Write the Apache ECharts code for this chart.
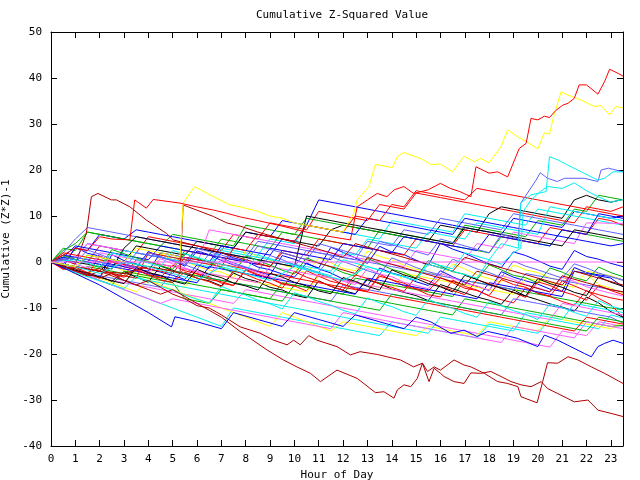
<!DOCTYPE html>
<html><head><meta charset="utf-8">
<script src="https://cdn.jsdelivr.net/npm/echarts@6/dist/echarts.min.js"></script>
<style>html,body{margin:0;padding:0;background:#fff}#c{width:640px;height:480px}</style>
</head><body><div id="c"></div>
<script>
const titleText = "Cumulative Z-Squared Value";
const xName = "Hour of Day";
const yName = "Cumulative (Z*Z)-1";
const xTicks = [0,1,2,3,4,5,6,7,8,9,10,11,12,13,14,15,16,17,18,19,20,21,22,23];
const yTicks = [-40,-30,-20,-10,0,10,20,30,40,50];

// shared half-hour sampling for the bundle of lines
const halfHours = [0,0.5,1,1.5,2,2.5,3,3.5,4,4.5,5,5.5,
  6,6.5,7,7.5,8,8.5,9,9.5,10,10.5,11,11.5,
  12,12.5,13,13.5,14,14.5,15,15.5,16,16.5,17,17.5,
  18,18.5,19,19.5,20,20.5,21,21.5,22,22.5,23,23.5];

const w01 = [0,2.5,4,6.5,6,5.5,5,4.5,4,3.5,6,5.5, 5,4.5,4,3.5,8,7.5,7,6.5,6,5.5,5,4.5, 4,3.5,3,7,6.5,6,5.5,5,4.5,4,8,7.5, 7,6.5,6,5.5,9,8.5,8,11.5,11,14.5,14,13.5];
const w02 = [0,-0.5,3,2.5,6,5.5,5,7,6.5,6,5.5,5, 4.5,4,3.5,3,6.5,6,5.5,9,8.5,8,13.5,13, 12.5,12,11.5,11,10.5,10,9.5,9,8.5,8,7.5,7, 6.5,6,9.5,9,8.5,8,7.5,11,10.5,10,9.5,10];
const w03 = [0,1,0.5,0,3.5,3,2.5,2,5.5,5,4.5,4, 3.5,3,2.5,6,5.5,5,8.5,8,7.5,7,11,10.5, 10,9.5,9,12.5,12,11.5,15,14.5,14,13.5,13,12.5, 12,11.5,11,10.5,10,9.5,9,8.5,12,11.5,11,12];
const w04 = [0,-0.5,-1,-1.5,-2,0.5,0,3.5,3,2.5,2,1.5, 4.5,4,3.5,3,6.5,6,5.5,5,4.5,4,3.5,7, 8,7.5,7,6.5,6,5.5,5,4.5,8,7.5,7,6.5, 10.5,12,11.5,11,10.5,10,9.5,13.5,14.5,13.5,13,13.6];
const w06 = [0,-1,-1.5,1,0.5,0,-0.5,-1,2,1.5,1,0.5, 0,-0.5,3,2.5,2,1.5,5,4.5,4,8,7.5,7, 6.5,6,5.5,5,9,8.5,8,7.5,7,6.5,10.5,10, 9.5,9,8.5,8,11.5,11,10.5,10,9.5,9,8.5,8];
const w07 = [0,-1.2,-2.6,-3.1,0.4,-0.8,-1.9,-2.4,-3.6,1.8,0.6,0.1, -0.9,-1.8,-2.2,-3.4,2.6,1.1,0.4,-0.6,-1.3,-2.5,0.9,-0.2, -1.4,-1.9,2.4,1.2,0.5,-0.7,-1.6,-2.1,-3.3,-0.4,-1.5,-2.8, -3.6,-4.4,-0.6,-1.7,-2.3,-3.5,-4.1,-1.2,-2.6,-4.9,-5.7,-6.8];
const w08 = [0,1.5,1,4,3.5,3,2.5,2,1.5,1,0.5,0, 3,2.5,2,1.5,1,4.5,4,3.5,3,2.5,2,1.5, 1,0.5,4.5,4,3.5,7,6.5,6,9.5,9,8.5,8, 7.5,7,10.5,10,9.5,9,8.5,8,7.5,7,6.5,6];
const w09 = [0,-1,-2,-1,-1.5,-2,-2.5,-3,-3.5,-4,-4.5,-8, -8.5,-9,-6,-6.5,-7,-7.5,-8,-4.5,-5,-5.5,-6,-6.5, -7,-3.5,-4,-4.5,-5,-5.5,-6,-6.5,-7,-7.5,-4,-4.5, -5,-5.5,-6,-6.5,-7,-7.5,-8,-8.5,-9,-9.5,-10,-10.4];
const w10 = [0,-0.8,-1.9,-2.3,-3.4,0.2,-1.1,-1.6,-2.8,-3.3,-4.1,-1.4, -2.5,-3.2,-4.6,-5.1,-1.8,-2.9,-3.6,-4.8,-5.2,-6.3,-2.6,-3.5, -4.9,-5.6,-6.4,-3.1,-3.8,-5.2,-5.9,-7.1,-7.6,-3.9,-5.3,-6.1, -7.4,-8.2,-8.9,-5.6,-6.7,-7.5,-8.6,-9.4,-6.2,-7.9,-9.3,-12];
const w11 = [0,-1.3,-2.1,-2.6,-3.4,1.6,0.3,-0.4,-1.5,-2.2,-2.9,-3.8, -0.6,-1.4,2.1,0.9,0.2,-1.1,-1.7,-2.6,-3.3,-0.2,-1.5,-2.4, -3.7,-4.5,-5.2,-1.3,-2.4,-3.1,-4.3,-5.1,-1.9,-3.2,-4.4,-5.3, -6.2,-2.1,-3.3,-4.1,-4.8,-5.9,-6.4,-1.2,-2.3,-2.8,-3.1,-3.9];
const w12 = [0,-1,-2,-3,-3.5,-4,-4.5,-5,-5.5,-6,-6.5,-7, -7.5,-8,-8.5,-9,-6,-6.5,-7,-7.5,-8,-8.5,-9,-9.5, -10,-10.5,-11,-11.5,-12,-12.5,-13,-13.5,-14,-14.5,-15,-15.5, -16,-16.5,-17,-17.5,-18,-18.5,-15,-15.5,-16,-13,-13.5,-14];
const w13 = [0,-1,-2,-3,-4,-5,-6,-7,-8,-9,-10,-11, -12,-13,-14,-10,-10.5,-11,-11.5,-12,-12.5,-13,-13.5,-14, -14.5,-15,-15.5,-16,-13,-13.5,-14,-14.5,-15,-15.5,-16,-16.5, -13.5,-14,-14.5,-15,-15.5,-12.5,-13,-13.5,-14,-14.5,-11.5,-12.2];
const w15 = [0,-0.5,-1.5,-2.5,-3.5,-4.5,-5.5,-6.5,-4,-5,-6,-7, -8,-9,-10,-11,-12,-13,-14,-11,-12,-13,-14,-15, -13,-13.5,-14,-14.5,-15,-15.5,-16,-14,-14.5,-15,-15.5,-16, -13,-13.5,-14,-14.5,-15,-12,-12.5,-13,-13.5,-14,-14.5,-13];
const w16 = [0,3,2.5,6.5,6,5.5,5,4.5,4,3.5,3,2.5, 2,1.5,5,4.5,4,3.5,3,6.5,6,9.5,9,8.5, 8,7.5,7,6.5,6,5.5,5,4.5,4,3.5,3,2.5, 2,5.5,5,4.5,4,3.5,7,6.5,6,5.5,5,4.5];
const w17 = [0,-1.1,3.2,1.9,1.3,0.2,-0.6,-1.4,2.3,1.1,0.4,-0.9, 2.4,1.6,0.3,-0.6,-1.2,-2.1,-2.8,1.4,0.6,-0.4,-1.3,3.2, 2.1,0.9,-0.3,3.4,2.2,1.6,0.4,-0.7,4.1,2.8,1.9,0.7, -0.4,-1.2,2.2,1.4,0.3,-0.9,-1.6,2.5,1.2,0.6,-0.3,-1];
const w18 = [0,-0.5,-1,-1.5,-2,-2.5,-3,0.5,0,-0.5,-1,2.5, 2,1.5,1,0.5,0,-0.5,-1,2.5,2,1.5,5,4.5, 4,3.5,3,2.5,2,1.5,5,4.5,4,3.5,7,6.5, 6,5.5,5,4.5,4,7.5,7,6.5,6,9.5,9,8];
const w19 = [0,-1.2,-1.9,-2.8,-3.1,-4.2,-2.1,-3.3,-4.4,-0.9,-1.8,-2.6, -3.5,-4.1,-5.2,-2.4,-3.6,-4.3,-5.5,-6.1,-7.2,-7.8,-4.1,-5.3, -6.2,-6.9,-3.8,-4.7,-5.9,-6.6,-7.3,-8.4,-4.9,-5.8,-6.7,-7.6, -8.3,-9.2,-6.1,-7.4,-8.2,-9.1,-9.8,-10.7,-7.6,-8.9,-10.8,-12];
const w20 = [0,-0.5,-1.5,-2.5,-3,-3.5,-4,-4.5,-5,-5.5,-2,-2.5, -3,-3.5,-4,-4.5,-5,-5.5,-6,-6.5,-7,-7.5,-8,-8.5, -5,-5.5,-6,-6.5,-7,-7.5,-8,-8.5,-9,-9.5,-10,-10.5, -11,-11.5,-8,-8.5,-9,-9.5,-10,-10.5,-11,-11.5,-12,-13.3];
const w21 = [0,1.5,1,4,3.5,3,2.5,2,1.5,1,0.5,0, -0.5,7,6.5,6,5.5,5,4.5,4,3.5,3,2.5,2, 1.5,1,0.5,0,-0.5,-1,2.5,2,1.5,1,0.5,4, 3.5,3,6.5,6,5.5,5,4.5,4,8.5,8.5,8.4,8.4];
const w22 = [0,1,0.5,0,-0.5,-1,2.5,2,1.5,1,0.5,0, -0.5,-1,2.5,2,1.5,1,0.5,0,-0.5,-1,-1.5,-2, 2,1.5,5,4.5,4,3.5,3,6.5,6,5.5,5,8.5, 8,7.5,7,6.5,6,12,11.5,11,10.5,10,9.5,9];
const w23 = [0,-0.5,-1,-1.5,-2,-2.5,-3,-3.5,-4,-4.5,-5,-5.5, -2,-2.5,-3,-3.5,-4,-4.5,-5,-5.5,-6,-6.5,-3,-3.5, -4,-4.5,-5,-5.5,-6,-2.5,-3,-3.5,-4,-4.5,-5,-5.5, -6,-6.5,-7,-3.5,-4,-4.5,-5,-5.5,-2,-2.5,-3,-4];
const w24 = [0,1.5,1,0.5,0,-0.5,-1,-1.5,-2,2,1.5,1, 0.5,0,3.5,3,2.5,2,1.5,5,4.5,8,7.5,7, 6.5,6,9.5,9,8.5,8,7.5,7,6.5,6,9.5,9, 8.5,8,7.5,7,6.5,6,5.5,5,4.5,4,3.5,4];
const w25 = [0,-1,-2,-3,-4,-5,-2,-2.5,-3,-3.5,-4,-4.5, -5,-5.5,-6,-6.5,-7,-7.5,-8,-8.5,-5,-5.5,-6,-6.5, -7,-7.5,-8,-8.5,-9,-9.5,-10,-10.5,-11,-11.5,-8,-8.5, -9,-9.5,-10,-10.5,-11,-11.5,-12,-12.5,-13,-13.5,-14,-13.8];
const w26 = [0,-1.4,-1.8,-2.9,1.3,0.1,-0.6,-1.7,-2.2,-3.4,-0.7,-1.9, -2.6,-3.8,-4.3,-5.1,-1.6,-2.7,-3.5,-4.6,-5.3,-1.9,-3.1,-4.2, -4.8,-5.9,-6.4,-2.7,-3.9,-4.6,-5.8,-6.3,-3.4,-4.5,-5.7,-6.2, -7.3,-3.8,-4.9,-5.5,-6.8,-7.4,-4.1,-5.2,-6.3,-7.1,-7.8,-8.3];
const w27 = [0,-1,-2,-3,-4,-5,-6,-7,-8,-9,-8,-8.5, -9,-9.5,-10,-10.5,-11,-11.5,-12,-12.5,-13,-13.5,-14,-14.5, -11,-11.5,-12,-12.5,-13,-13.5,-14,-14.5,-15,-15.5,-16,-16.5, -17,-17.5,-14,-14.5,-15,-15.5,-16,-16.5,-13,-13.5,-14,-14.5];
const w28 = [0,1,0.5,0,-0.5,-1,-1.5,-2,-2.5,-3,-3.5,-4, -4.5,-1,-1.5,-2,-2.5,-3,-3.5,-4,-4.5,-5,-5.5,-6, -6.5,-7,-3.5,-4,-4.5,-5,-5.5,-6,-6.5,-7,-7.5,-8, -4.5,-5,-5.5,-6,-6.5,-7,-7.5,-2,-2.5,-3,-3.5,-5.4];
const w29 = [0,-0.5,-1,-1.5,-2,-2.5,-3,-3.5,-4,-4.5,-5,-5.5, -6,-6.5,-7,-7.5,-8,-8.5,-9,-9.5,-10,-10.5,-11,-11.5, -12,-12.5,-13,-13.5,-14,-14.5,-15,-15.5,-12,-12.5,-13,-13.5, -14,-14.5,-15,-11,-11.5,-12,-12.5,-9,-9.5,-10,-10.5,-11];
const w30 = [0,2,5,7.5,7,6.5,6,5.5,5,4.5,4,3.5, 3,2.5,2,1.5,1,0.5,0,-0.5,-1,2.5,2,1.5, 1,0.5,0,-0.5,-1,-1.5,-2,-2.5,-3,-3.5,-4,-4.5, -5,-5.5,-6,-2.5,-3,-3.5,-4,-4.5,-5,-5.5,-6,-6.5];
const w31 = [0,2,1.5,1,0.5,0,-0.5,-1,-1.5,-2,-2.5,1, 0.5,0,-0.5,-1,-1.5,-2,-2.5,-3,-3.5,-4,-4.5,-5, -5.5,-6,-6.5,-7,-7.5,-8,-8.5,-9,-9.5,-10,-10.5,-11, -11.5,-12,-12.5,-13,-13.5,-14,-14.5,-15,-12,-12.5,-13,-13.5];
const w32 = [0,-0.5,-1,1.5,1,0.5,0,-0.5,-1,-1.5,-2,-2.5, -3,-3.5,-4,-4.5,-5,-5.5,-6,-6.5,-7,-7.5,-8,-8.5, -9,-9.5,-10,-10.5,-7,-7.5,-8,-8.5,-9,-9.5,-10,-10.5, -11,-11.5,-12,-12.5,-13,-13.5,-14,-14.5,-15,-12,-12.5,-13];
const w33 = [0,1,3.5,3,2.5,2,1.5,1,0.5,3.5,3,2.5, 2,1.5,1,0.5,0,-0.5,3,2.5,2,1.5,1,0.5, 4,3.5,3,2.5,2,5.5,5,4.5,4,3.5,3,2.5, 6,5.5,5,4.5,4,3.5,7,6.5,6,10.5,10,9.5];
const w34 = [0,0.5,0,-0.5,-1,-1.5,3,5.5,5,4.5,4,3.5, 3,2.5,2,1.5,1,0.5,0,-0.5,-1,10,9.5,9, 8.5,8,7.5,7,6.5,6,5.5,5,4.5,4,7.5,7, 6.5,6,5.5,5,4.5,4,3.5,7,6.5,6,5.5,5];
const w35 = [0,-0.5,-1,-1.5,2,1.5,1,0.5,0,-0.5,-1,-1.5, -2,-2.5,-3,-3.5,-4,-4.5,-1,-1.5,-2,-2.5,-3,-3.5, -4,-4.5,-5,-5.5,-6,-6.5,-7,-7.5,-8,-8.5,-9,-9.5, -10,-10.5,-11,-11.5,-12,-12.5,-9,-9.5,-10,-10.5,-11,-11.5];
const w36 = [0,-0.5,-1,-1.5,-2,-2.5,-3,-3.5,2,1.5,1,0.5, 0,-0.5,-1,3,2.5,6,5.5,5,4.5,8,7.5,7, 6.5,10,9.5,9,12.5,12,15.5,15,14.5,14,13.5,16, 15.5,15,14.5,14,13.5,13,12.5,12,11.5,11,10.5,10];
const w37 = [0,1.4,0.6,-0.3,-1.2,2.7,1.8,0.9,0.1,-0.8,-1.6,1.9, 0.8,-0.1,-1.2,-2.4,1.3,0.4,-0.7,-1.8,-2.6,0.9,-0.2,-1.1, -2.3,-3.1,0.8,-0.4,-1.6,-2.3,-3.5,0.3,-0.9,-2.1,-2.7,-3.8, -0.6,-1.7,-2.9,-3.4,-4.6,-1.3,-2.2,-3.4,-4.1,-1.1,-2.3,-3.2];
const w38 = [0,-1.6,-1.1,-2.3,-1.4,-2.6,-3.3,-1.7,-2.8,-3.9,-4.4,-2.2, -3.5,-4.3,-5.4,-1.9,-2.7,-3.8,-4.6,-5.7,-2.1,-3.3,-4.2,-5.3, -6.1,-2.8,-3.6,-4.8,-5.5,-6.4,-3.2,-4.1,-5.3,-6.2,-7.1,-3.9, -4.7,-5.8,-6.6,-7.7,-4.3,-5.1,-6.4,-7.2,-8.3,-5.1,-6.2,-7.1];
const w39 = [0,0.6,-0.4,-1.3,1.2,0.3,-0.8,-1.5,-2.4,0.7,-0.4,-1.3, -2.2,-2.9,0.6,-0.5,-1.4,-2.3,-3.2,-3.8,-0.5,-1.6,-2.4,-3.3, -4.2,-4.9,-1.4,-2.6,-3.2,-4.4,-5.1,-5.8,-2.5,-3.4,-4.6,-5.2, -6.1,-2.9,-3.8,-4.9,-5.6,-6.5,-3.3,-4.2,-5.4,-6.1,-6.8,-7.4];
const w40 = [0,-0.9,-1.8,-2.4,-3.3,-4.1,-4.7,-1.2,-2.3,-2.9,-4.1,-4.8, -1.6,-2.7,-3.4,-4.6,-5.2,-6.1,-2.5,-3.3,-4.4,-5.2,-6.3,-6.9, -3.4,-4.2,-5.3,-6.1,-1.7,-2.8,-3.6,-4.7,-5.4,-6.5,-2.9,-3.8, -4.9,-5.7,-6.6,-7.4,-3.6,-4.7,-5.5,-6.6,-7.3,-3.2,-4.4,-5.3];
const w41 = [0,-1.1,-2.3,-3.2,-4.1,-4.9,-5.8,-3.1,-4.2,-5.3,-6.1,-7.2, -8.1,-8.9,-5.3,-6.4,-7.2,-8.3,-9.1,-10.2,-6.7,-7.5,-8.6,-9.4, -10.5,-11.3,-7.8,-8.9,-9.7,-10.8,-11.6,-8.1,-9.2,-10.1,-11.2,-12, -8.6,-9.5,-10.6,-11.4,-12.5,-9.1,-9.9,-11,-11.8,-8.4,-9.6,-10.3];
const w42 = [0,0.8,-0.2,2.6,1.7,0.6,-0.3,-1.2,2.1,1.2,0.2,-0.6, -1.6,1.8,0.9,-0.2,-1.1,-1.9,1.4,0.5,-0.6,-1.4,-2.3,1.2, 0.1,-0.8,-1.9,-2.7,0.9,-0.1,-1.2,-2.1,-2.8,0.6,-0.4,-1.5, -2.3,-3.4,0.2,-0.9,-1.7,-2.6,-3.5,-0.4,-1.3,-2.4,-3.2,-4];
const w05 = [0,0,0,0,0,0,0,0,0,0,0,0, 0,0,0,0,0,0,0,0,0,0,0,0, 0,0,0,0,0,0,0,0,0,0,0,0, 0,0,0,0,0,0,0,0,0,0,0,0];

// individually traced lines: [hour, value]
const topRed = [[0,0],[0.5,1.5],[1,3],[1.5,2.5],[2,5.5],[2.5,5],[3.24,4.8],[3.44,13.5],[3.92,11.7],[4.2,13.6],[5.3,12.8],[5.98,12],[6.67,11.3],[7.22,10.6],[7.77,9.8],[8.5,9],[9.5,7.8],[10.5,6.5],[11.5,5.5],[12.3,4.8],[12.58,12],[13,13.5],[13.4,14.9],[13.8,14.2],[14.1,15.7],[14.5,16.4],[14.9,14.9],[15.5,15.7],[16,17.1],[16.4,16],[16.8,15.3],[17.25,14.2],[17.46,20.7],[18,19.3],[18.35,19.6],[18.76,18.5],[19.24,24.7],[19.52,25.8],[19.72,31.2],[20,30.9],[20.27,31.7],[20.48,31.4],[20.75,33],[21.03,34.1],[21.24,34.5],[21.5,35.6],[21.7,38.5],[22,38.5],[22.47,36.5],[22.74,39.2],[22.95,41.9],[23.3,41],[23.5,40.4]];
const topYellow = [[0,0],[0.5,-0.5],[1,-1],[1.5,1.5],[2,1],[2.5,0.5],[3,0],[3.5,3],[4,2.5],[4.5,2],[5,1.5],[5.3,1],[5.43,12.8],[5.9,16.4],[6.53,14.6],[7.36,12.4],[7.77,12],[8.5,11],[9,10],[9.5,9.5],[10,8.5],[10.5,8],[11,7.5],[11.5,7],[12,6.5],[12.44,10.6],[12.58,13.5],[13.06,16.4],[13.33,21.2],[13.68,20.9],[14.02,20.5],[14.23,22.9],[14.5,23.8],[15.19,22.5],[15.6,21.2],[16,21.3],[16.5,19.6],[16.97,23],[17.39,21.8],[17.66,22.5],[18,21.6],[18.49,25.1],[18.76,28.7],[19.18,27.2],[19.52,26.2],[20,24.6],[20.27,28.1],[20.48,27.8],[20.68,32.3],[20.96,37],[21.24,36.3],[21.78,35.2],[22.33,33.8],[22.6,34],[22.95,32],[23.2,33.8],[23.5,33.5]];
const cyanA = [[0,0],[1,-1],[2,-2.5],[3,0],[4,-1],[5,-2.5],[6,-4],[7,-1],[8,-2.5],[9,-4],[10,-1],[11,-2.5],[12,-4],[13,-1],[14,-2.5],[15,-4],[15.5,0],[16.5,-1.5],[17,2],[18,0.5],[18.5,4],[19.2,3],[19.3,12.8],[19.72,14.6],[20.34,15.3],[20.48,22.9],[20.82,22.2],[21.37,20.7],[21.9,19.3],[22.47,17.8],[22.74,18.2],[23.09,19.6],[23.5,19.6]];
const cyanB = [[0,0],[1,0.5],[2,-1],[2.5,2],[3.5,0.5],[4.5,-1],[5,2.5],[6,1],[7,-0.5],[8,-2],[8.5,1.5],[9.5,0],[10.5,-1.5],[11.5,-3],[12,0.5],[13,-1],[14,-2.5],[15,-4],[15.5,-0.5],[16.5,-2],[17.5,-3.5],[18,0.5],[18.5,-0.5],[19,2],[19.3,3],[19.4,11],[19.72,13.5],[20.1,15.3],[20.4,16.4],[21,16],[21.5,17.2],[22,15.5],[22.47,14.2],[23,13],[23.5,13.6]];
const lightBlueA = [[0,0],[1,1],[2,0],[3,-1.5],[3.5,2],[4.5,1],[5.5,-0.5],[6,3],[7,1.5],[8,0],[8.5,3.5],[9.5,2],[10.5,0.5],[11,4],[12,2.5],[13,1],[13.5,4.5],[14.5,3],[15.5,1.5],[16,5],[17,3.5],[18,2],[18.5,6],[19.2,5],[19.3,12.8],[19.93,17.8],[20.1,19.4],[20.4,18.2],[20.8,17.5],[21.1,18.2],[21.9,18.2],[22.47,17.5],[22.6,20],[22.9,20.4],[23.5,19.6]];
const darkRedA = [[0,0],[0.5,-1],[1,-2],[1.5,-3],[2,-2],[2.5,-3],[3,-4],[3.5,-5],[4,-4],[4.5,-5.5],[5,-7],[5.5,-8],[6,-9.5],[6.5,-10],[7,-11.5],[7.77,-14.1],[8.6,-15.5],[9.14,-17],[9.7,-18],[9.97,-17],[10.24,-18],[10.59,-16],[10.93,-17],[11.75,-18.4],[12.3,-20.2],[12.7,-19.5],[13.4,-20.1],[13.8,-20.6],[14.36,-21.3],[14.9,-22.8],[15.26,-22],[15.47,-23.8],[15.74,-22.8],[16,-23.5],[16.56,-21.3],[16.97,-22.4],[17.25,-22.8],[17.8,-24.2],[18.35,-26],[18.76,-26.4],[19.18,-27.1],[19.31,-29.3],[19.97,-30.6],[20.2,-26],[20.4,-21.9],[20.82,-22],[21.24,-20.6],[21.65,-21.3],[22.2,-22.8],[22.74,-24.2],[23.5,-26.4]];
const darkRedB = [[0,0],[0.5,-1],[1,-1.5],[1.5,-2.5],[2,-3.5],[2.5,-2.5],[3,-4],[3.5,-5],[4,-6],[4.5,-7],[5,-6],[5.5,-7.5],[6,-9],[6.5,-10.5],[7,-12],[7.77,-15.1],[8.87,-19.1],[9.55,-21.3],[10.1,-22.8],[10.66,-24.2],[11.07,-26],[11.75,-23.5],[12.58,-25.3],[13.33,-28.4],[13.68,-28.2],[14.09,-29.6],[14.23,-27.8],[14.5,-26.7],[14.78,-27.1],[15.05,-25.3],[15.26,-22],[15.53,-26],[15.74,-23.1],[16,-24.2],[16.15,-24.9],[16.56,-26],[16.97,-26.4],[17.25,-24.1],[17.66,-24.2],[18.07,-23.8],[18.49,-24.9],[18.9,-26],[19.31,-26.7],[19.72,-27.1],[20.14,-26],[20.4,-27.5],[20.82,-28.6],[21.5,-30.4],[22.06,-30],[22.47,-32.2],[23,-32.9],[23.5,-33.6]];
const darkRedEarly = [[0,0],[0.5,0.5],[1,-0.5],[1.45,6.2],[1.66,14.2],[1.93,14.9],[2.48,13.5],[2.69,13.5],[3.24,12],[3.92,9.1],[4.75,6.2],[5.02,4.8],[6,3.5],[7,2],[8,0.5],[9,-1],[9.5,2],[10.5,0.5],[11.5,-1],[12.5,-2.5],[13,1],[14,-0.5],[15,-2],[16,-3.5],[17,-5],[17.5,-2],[18.5,-3.5],[19.5,-5],[20.5,-6.5],[21,-3],[22,-4.5],[23,-6],[23.5,-6.5]];
const darkRedMid = [[0,0],[1,-1],[2,-2],[3,-2.5],[4,-1],[5,-2],[5.3,-2.5],[5.43,12.4],[5.98,11.3],[6.67,9.9],[7.22,8.5],[7.77,7.8],[8.5,6.5],[9.5,5],[10.5,3.5],[11.5,2],[12,1],[12.5,4],[13.5,2.5],[14.5,1],[15.5,-0.5],[16.5,-2],[17,1],[18,-0.5],[19,-2],[20,-3.5],[21,-5],[21.5,-2],[22.5,-3.5],[23.5,-5]];
const blueLow = [[0,0],[1,-2.5],[2,-5],[3,-8],[4,-11],[4.95,-14.1],[5.09,-11.9],[6,-13],[7,-14.5],[7.5,-11],[8.5,-12.5],[9.5,-14],[10,-11],[11,-12.5],[12,-14],[12.5,-11.5],[13.5,-13],[14.5,-14.5],[15,-12],[15.6,-13],[16.43,-15.5],[16.97,-14.8],[17.5,-16.2],[17.94,-15.1],[18.62,-15.9],[19.17,-16.6],[20,-18.4],[20.27,-15.9],[20.82,-17],[21.92,-19.9],[22.2,-20.6],[22.47,-18.4],[22.74,-17.7],[23.09,-17],[23.5,-17.7]];

const RED='#ff0000', GRN='#00b000', BLU='#0000ff', MAG='#ff5cff', CYN='#00f0f0', DRD='#b00000', YEL='#ffff00', BLK='#000000', LBL='#6060ff';

const gridLines = [
  [w01,GRN],[w02,BLU],[w03,RED],[w04,BLK],[w06,CYN],[w07,YEL],[w08,LBL],[w09,GRN],[w10,RED],[w11,BLU],
  [w12,MAG],[w13,CYN],[w15,YEL],[w16,GRN],[w17,BLU],[w18,RED],[w19,BLK],[w20,LBL],[w21,MAG],[w22,CYN],
  [w23,YEL],[w24,BLU],[w25,GRN],[w26,RED],[w27,MAG],[w28,BLU],[w29,CYN],[w30,LBL],[w31,RED],[w32,GRN],
  [w33,BLU],[w34,BLK],[w35,MAG],[w36,RED],[w37,GRN],[w38,RED],[w39,MAG],[w40,BLK],[w41,CYN],[w42,LBL]
];
const tracedLines = [
  [darkRedA,DRD],[darkRedB,DRD],[darkRedEarly,DRD],[darkRedMid,DRD],[blueLow,BLU],
  [cyanB,CYN],[lightBlueA,LBL],[cyanA,CYN],[topYellow,YEL],[topRed,RED]
];

const series = [];
gridLines.forEach(([vals,color]) => {
  series.push({type:'line', data: halfHours.map((h,i)=>[h, vals[i]]), showSymbol:false, symbol:'none',
    lineStyle:{width:1,color}, itemStyle:{color}, animation:false, silent:true});
});
tracedLines.forEach(([pts,color]) => {
  series.push({type:'line', data: pts, showSymbol:false, symbol:'none',
    lineStyle:{width:1,color}, itemStyle:{color}, animation:false, silent:true});
});
series.push({type:'line', data: halfHours.map((h,i)=>[h, w05[i]]), showSymbol:false, symbol:'none',
  lineStyle:{width:1,color:MAG}, animation:false, silent:true});

const FONT = 'DejaVu Sans Mono';
const chart = echarts.init(document.getElementById('c'), null, {renderer:'canvas'});
chart.setOption({
  animation:false,
  backgroundColor:'#ffffff',
  title:{text:titleText, left:337, top:5, textAlign:'center',
    textStyle:{fontFamily:FONT, fontSize:11, fontWeight:'normal', color:'#000'}},
  grid:{left:51, right:17, top:32, bottom:34, containLabel:false, outerBoundsMode:'none'},
  xAxis:[
    {type:'value', min:xTicks[0], max:23.5, interval:1, position:'bottom',
     name:xName, nameLocation:'middle', nameGap:21,
     nameTextStyle:{fontFamily:FONT, fontSize:11, color:'#000'},
     axisLine:{show:true, onZero:false, lineStyle:{color:'#000', width:1}},
     axisTick:{show:true, inside:true, length:6, lineStyle:{color:'#000'}},
     axisLabel:{show:true, margin:8, fontFamily:FONT, fontSize:11, color:'#000', showMaxLabel:false,
       formatter:v => xTicks.includes(v) ? String(v) : ''},
     splitLine:{show:false}},
    {type:'value', min:xTicks[0], max:23.5, interval:1, position:'top',
     axisLine:{show:true, onZero:false, lineStyle:{color:'#000', width:1}},
     axisTick:{show:true, inside:true, length:6, lineStyle:{color:'#000'}},
     axisLabel:{show:false}, splitLine:{show:false}}
  ],
  yAxis:[
    {type:'value', min:yTicks[0], max:yTicks[yTicks.length-1], interval:10, position:'left',
     name:yName, nameLocation:'middle', nameGap:33, nameRotate:90,
     nameTextStyle:{fontFamily:FONT, fontSize:11, color:'#000'},
     axisLine:{show:true, onZero:false, lineStyle:{color:'#000', width:1}},
     axisTick:{show:true, inside:true, length:6, lineStyle:{color:'#000'}},
     axisLabel:{show:true, margin:9, fontFamily:FONT, fontSize:11, color:'#000'},
     splitLine:{show:false}},
    {type:'value', min:yTicks[0], max:yTicks[yTicks.length-1], interval:10, position:'right',
     axisLine:{show:true, onZero:false, lineStyle:{color:'#000', width:1}},
     axisTick:{show:true, inside:true, length:6, lineStyle:{color:'#000'}},
     axisLabel:{show:false}, splitLine:{show:false}}
  ],
  series: series
});
</script>
</body></html>
